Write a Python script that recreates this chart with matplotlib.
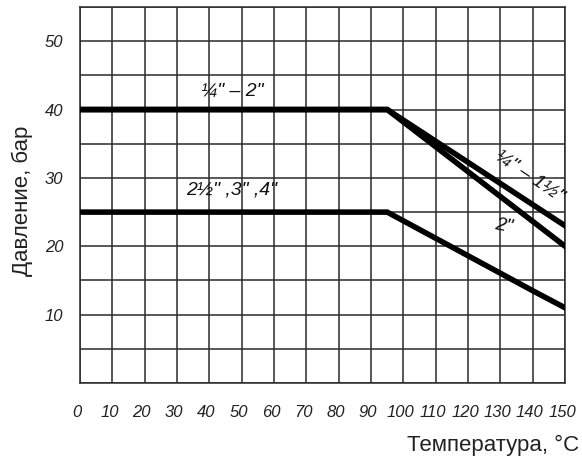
import numpy as np
import matplotlib
matplotlib.use('Agg')
import matplotlib.pyplot as plt
import matplotlib.transforms as mtransforms

# -- data
t_small = [0, 95, 150]          # 1/4"-1 1/2"
p_small = [40, 40, 23]
t_two = [0, 95, 150]            # 2"
p_two = [40, 40, 20]
t_big = [0, 95, 140, 150]       # 2 1/2", 3", 4"
p_big = [25, 25, 13.5, 11]

x_ticks = list(range(0, 151, 10))
y_ticks = [10, 20, 30, 40, 50]

fig = plt.figure(figsize=(5.82, 4.66), dpi=100)
ax = fig.add_axes([0.1375, 0.178, 0.8335, 0.807])

ax.set_xlim(0, 150)
ax.set_ylim(0, 55)

# grid: every 10 deg, every 5 bar
for x in range(0, 151, 10):
	ax.axvline(x, color="#2a2a2a", lw=1.1, zorder=1)
for y in range(0, 56, 5):
	ax.axhline(y, color="#2a2a2a", lw=1.1, zorder=1)

ax.plot(t_small, p_small, color="black", lw=4, solid_joinstyle="miter", zorder=3)
ax.plot(t_two, p_two, color="black", lw=4, solid_joinstyle="miter", zorder=3)
ax.plot(t_big, p_big, color="black", lw=4, solid_joinstyle="miter", zorder=3)

for s in ax.spines.values():
	s.set_color("#2a2a2a")
	s.set_linewidth(1.1)

tfont = dict(family="Liberation Sans", style="italic", size=12, color="#222222")
ax.set_xticks(x_ticks)
ax.set_xticklabels([str(v) for v in x_ticks], **tfont)
ax.set_yticks(y_ticks)
ax.set_yticklabels([str(v) for v in y_ticks], **tfont)
ax.tick_params(axis="both", length=0)
ax.tick_params(axis="x", pad=16)
ax.tick_params(axis="y", pad=12)
off = mtransforms.ScaledTranslation(-3 / 100, 0, fig.dpi_scale_trans)
for lab in ax.get_xticklabels():
	lab.set_transform(lab.get_transform() + off)

# curve labels
lfont = dict(family="Liberation Sans", style="italic", size=14, color="#111111")
ax.text(47, 42.7, "\u00bc\" \u2013 2\"", ha="center", va="center", **lfont)
ax.text(47, 28.3, "2\u00bd\" ,3\" ,4\"", ha="center", va="center", **lfont)
ax.text(139, 30.3, "\u00bc\" \u2013 1\u00bd\"", ha="center", va="center", rotation=-34, **lfont)
ax.text(131, 23, "2\"", ha="center", va="center", rotation=-10, **lfont)

fig.text(0.038, 0.57, "Давление, бар", rotation=90, ha="center", va="center",
	family="Liberation Sans", size=16, color="#222222")
fig.text(0.995, 0.045, "Температура, °C", ha="right", va="center",
	family="Liberation Sans", size=16, color="#222222")

plt.savefig("out.png", dpi=100)
